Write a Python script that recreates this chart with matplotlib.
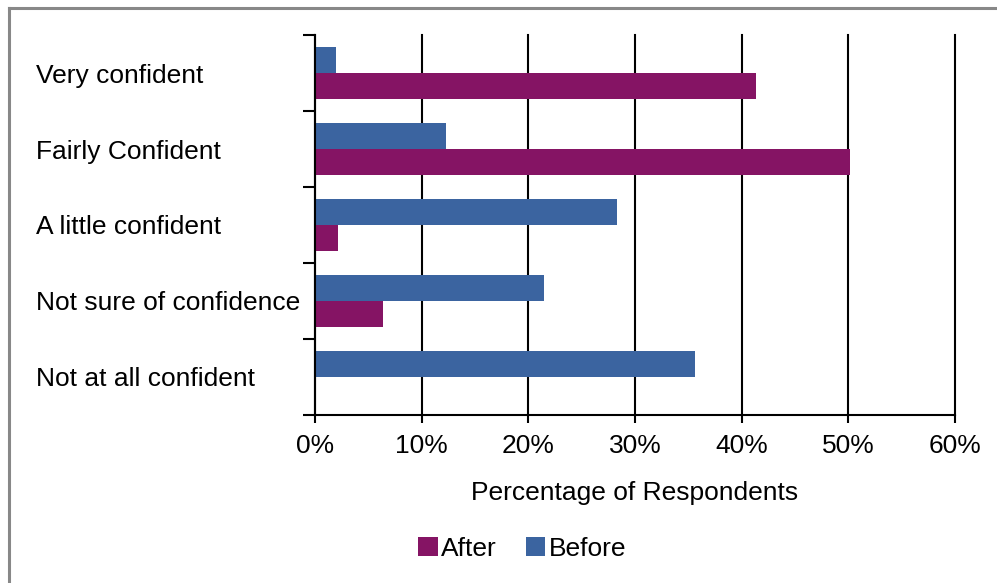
import numpy as np
import matplotlib.pyplot as plt
from matplotlib.lines import Line2D
from matplotlib.ticker import FixedLocator, FuncFormatter

plt.rcParams['font.family'] = ['Liberation Sans', 'DejaVu Sans']

categories = ['Very confident', 'Fairly Confident', 'A little confident',
              'Not sure of confidence', 'Not at all confident']
before = [2.0, 12.3, 28.3, 21.5, 35.6]
after = [41.3, 50.2, 2.2, 6.4, 0.0]

c_after = '#851464'
c_before = '#3B64A0'

W, H = 997, 583
fig = plt.figure(figsize=(W / 100, H / 100), dpi=100)
ax = fig.add_axes([315 / W, (H - 415) / H, 640 / W, 380 / H])

y = np.arange(len(categories))
h = 26 / 76
ax.barh(y - h / 2, before, height=h, color=c_before, label='Before', zorder=3)
ax.barh(y + h / 2, after, height=h, color=c_after, label='After', zorder=3)

ax.set_xlim(0, 60)
ax.set_ylim(len(categories) - 0.5, -0.5)
ax.set_xticks(np.arange(0, 61, 10))
ax.xaxis.set_major_formatter(FuncFormatter(lambda v, p: f'{v:.0f}%'))
ax.grid(axis='x', color='black', linewidth=1.5, zorder=1)
for gl in ax.get_xgridlines():
    gl.set_clip_on(False)

ax.yaxis.set_major_locator(FixedLocator(np.arange(-0.5, len(categories), 1)))
ax.yaxis.set_major_formatter(FuncFormatter(lambda v, p: ''))
ax.set_yticks(y, minor=True)
ax.set_yticklabels(categories, minor=True, fontsize=19)
for lab in ax.get_yticklabels(minor=True):
    lab.set_horizontalalignment('left')
ax.tick_params(axis='y', which='minor', length=0, pad=201)
ax.tick_params(axis='y', which='major', direction='out', length=8.5, width=1.5)
ax.tick_params(axis='x', direction='out', length=6, width=1.5, labelsize=19, pad=7.5)

for s in ['top', 'right']:
    ax.spines[s].set_visible(False)
for s in ['left', 'bottom']:
    ax.spines[s].set_linewidth(1.5)
    ax.spines[s].set_zorder(4)

ax.set_xlabel('Percentage of Respondents', fontsize=19, labelpad=17)

handles, labels = ax.get_legend_handles_labels()
fig.legend(handles[::-1], labels[::-1], loc='center', bbox_to_anchor=(522 / W, 1 - 549 / H),
           ncol=2, frameon=False, fontsize=19, handlelength=0.75, handleheight=0.75,
           handletextpad=0.12, columnspacing=1.1)

# outer frame (top and left edges visible)
fig.add_artist(Line2D([8.5 / W, 1.0], [1 - 7.5 / H, 1 - 7.5 / H], color='#888888', lw=2.2))
fig.add_artist(Line2D([8.5 / W, 8.5 / W], [1 - 7.5 / H, 0.0], color='#888888', lw=2.2))

fig.savefig('out.png', dpi=100)
